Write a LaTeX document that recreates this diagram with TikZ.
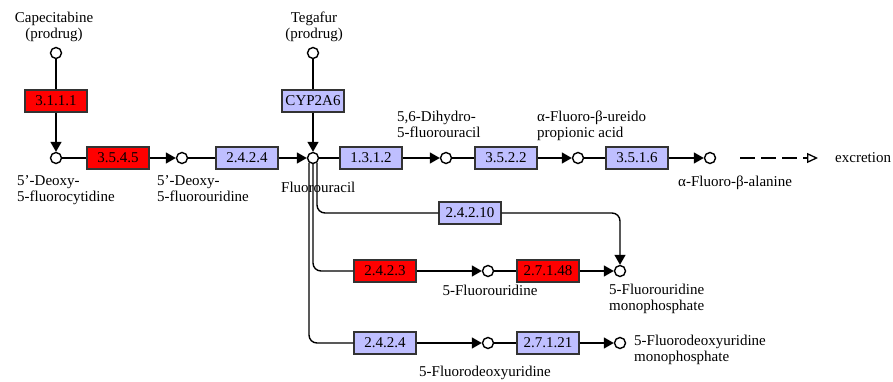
\documentclass[tikz,border=0pt]{standalone}
\usepackage{fontspec}
\setmainfont{Liberation Serif}
\usetikzlibrary{arrows.meta,positioning}
\definecolor{ecred}{HTML}{FF0000}
\definecolor{ecblue}{HTML}{BFBFFF}
\definecolor{edge}{HTML}{333333}

\begin{document}
\begin{tikzpicture}[x=1pt,y=-1pt,
  cpd/.style={circle,draw=black,fill=white,line width=1.4pt,minimum size=11pt,inner sep=0pt},
  enz/.style={draw=edge,line width=1.3pt,minimum width=62pt,minimum height=22pt,inner sep=0pt,font=\fontsize{15}{16}\selectfont},
  hit/.style={enz,fill=ecred},
  ortho/.style={enz,fill=ecblue},
  lab/.style={font=\fontsize{15}{16}\selectfont,align=left,inner sep=0pt},
  rxn/.style={line width=1.4pt},
  conv/.style={rxn,-{Triangle[length=10pt,width=11pt]}},
  outflow/.style={line width=1.3pt,dash pattern=on 15pt off 6pt,-{Triangle[open,fill=white,length=11pt,width=10pt]}}]
\useasboundingbox (0,0) rectangle (893,382);
\node[lab,align=center,anchor=north] (capecl) at (54,12) {Capecitabine\\(prodrug)};
\node[lab,align=center,anchor=north] (tegafl) at (314,12) {Tegafur\\(prodrug)};
\node[cpd] (capec) at (56,53) {};
\node[cpd] (tegaf) at (313,53) {};
\node[hit] (e3111) at (56,101) {3.1.1.1};
\node[ortho] (cyp) at (313,101) {CYP2A6};
\node[cpd] (c5dfcr) at (56,158) {};
\node[hit] (e3545) at (118,158) {3.5.4.5};
\node[cpd] (c5dfur) at (182,158) {};
\node[ortho] (e2424a) at (247,158) {2.4.2.4};
\node[cpd] (fu) at (313,158) {};
\node[ortho] (e1312) at (371,158) {1.3.1.2};
\node[cpd] (cdhfu) at (446,158) {};
\node[ortho] (e3522) at (506,158) {3.5.2.2};
\node[cpd] (cfupa) at (578,158) {};
\node[ortho] (e3516) at (637,158) {3.5.1.6};
\node[cpd] (cfbal) at (710,158) {};
\node[lab,anchor=west] (excr) at (835,158) {excretion};
\coordinate (exs) at (740,158);
\coordinate (exe) at (818,158);
\node[ortho] (e24210) at (470,213) {2.4.2.10};
\node[hit] (e2423) at (385,271) {2.4.2.3};
\node[cpd] (cfur) at (488,271) {};
\node[hit] (e27148) at (548,271) {2.7.1.48};
\node[cpd] (fump) at (620,271) {};
\node[ortho] (e2424b) at (385,343) {2.4.2.4};
\node[cpd] (cfudr) at (488,343) {};
\node[ortho] (e27121) at (548,343) {2.7.1.21};
\node[cpd] (fdump) at (620,343) {};
\node[lab,anchor=north west] (c5dfcrl) at (17,175) {5'-Deoxy-\\5-fluorocytidine};
\node[lab,anchor=north west] (c5dfurl) at (157,175) {5'-Deoxy-\\5-fluorouridine};
\node[lab,anchor=north west] (ful) at (281,182) {Fluorouracil};
\node[lab,anchor=north west] (cdhful) at (397,111) {5,6-Dihydro-\\5-fluorouracil};
\node[lab,anchor=north west] (cfupal) at (537,111) {α-Fluoro-β-ureido\\propionic acid};
\node[lab,anchor=north west] (cfball) at (678,176) {α-Fluoro-β-alanine};
\node[lab,anchor=north] (cfurl) at (490,285) {5-Fluorouridine};
\node[lab,anchor=north west] (fumpl) at (609,284) {5-Fluorouridine\\monophosphate};
\node[lab,anchor=north west] (fdumpl) at (634,335) {5-Fluorodeoxyuridine\\monophosphate};
\node[lab,anchor=north] (cfudrl) at (485,366) {5-Fluorodeoxyuridine};
\coordinate (fuA) at (317,163);
\coordinate (fuB) at (313,163);
\coordinate (fuC) at (309,163);
\draw[rxn] (capec) -- (e3111);
\draw[conv] (e3111) -- (c5dfcr);
\draw[rxn] (tegaf) -- (cyp);
\draw[conv] (cyp) -- (fu);
\draw[rxn] (c5dfcr) -- (e3545);
\draw[conv] (e3545) -- (c5dfur);
\draw[rxn] (c5dfur) -- (e2424a);
\draw[conv] (e2424a) -- (fu);
\draw[rxn] (fu) -- (e1312);
\draw[conv] (e1312) -- (cdhfu);
\draw[rxn] (cdhfu) -- (e3522);
\draw[conv] (e3522) -- (cfupa);
\draw[rxn] (cfupa) -- (e3516);
\draw[conv] (e3516) -- (cfbal);
\draw[outflow] (exs) -- (exe);
\draw[rxn,rounded corners=8pt] (fuA) |- (e24210);
\draw[conv,rounded corners=8pt] (e24210) -| (fump);
\draw[rxn,rounded corners=8pt] (fuB) |- (e2423);
\draw[conv] (e2423) -- (cfur);
\draw[rxn] (cfur) -- (e27148);
\draw[conv] (e27148) -- (fump);
\draw[rxn,rounded corners=8pt] (fuC) |- (e2424b);
\draw[conv] (e2424b) -- (cfudr);
\draw[rxn] (cfudr) -- (e27121);
\draw[conv] (e27121) -- (fdump);
\end{tikzpicture}
\end{document}
